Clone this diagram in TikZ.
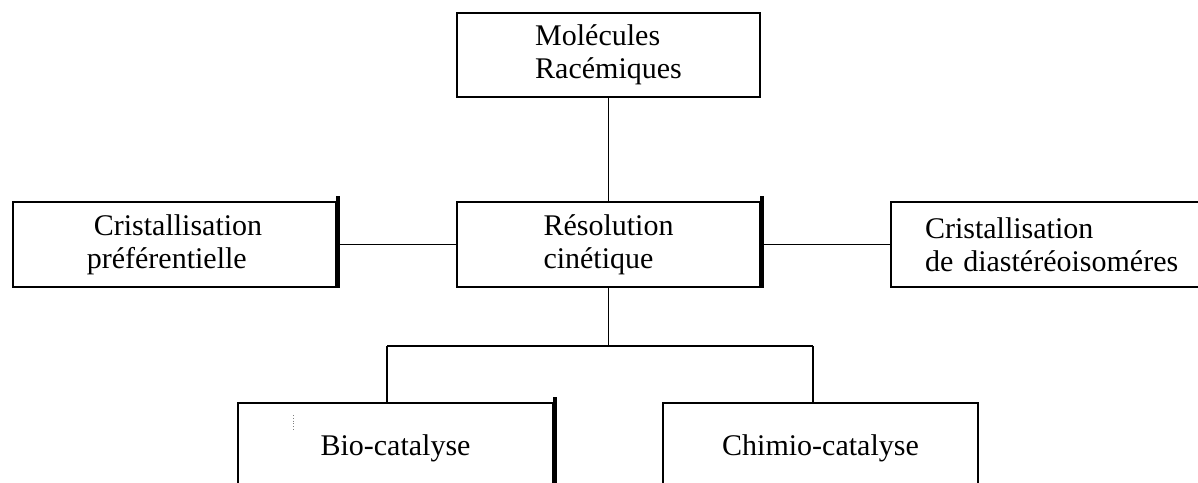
\documentclass[tikz,border=0pt]{standalone}
\usepackage{fontspec}
\setmainfont{Liberation Serif}
\begin{document}
\begin{tikzpicture}[x=1pt,y=-1pt,
  box/.style={draw, line width=1.7pt, rectangle, inner sep=0pt, font=\fontsize{30}{33}\selectfont},
  conn/.style={line width=1.5pt},
  shade/.style={line width=3.5pt}]
\useasboundingbox (0,0) rectangle (1198,482);
\clip (0,0) rectangle (1198,482);
\node[box, minimum width=303pt, minimum height=84pt, align=left] (top) at (608.5,55) {Molécules\\Racémiques};
\node[box, minimum width=303pt, minimum height=85pt, align=left] (mid) at (608.5,244.5) {Résolution\\cinétique};
\node[box, minimum width=323pt, minimum height=85pt, align=left] (left) at (174.5,244.5) {\hspace*{7pt}Cristallisation\\préférentielle};
\node[box, minimum width=330pt, minimum height=85pt, text width=262pt, inner xsep=34pt, align=left] (right) at (1056,244.5) {Cristallisation\\de diastéréoisoméres};
\node[box, minimum width=315pt, minimum height=90pt] (bl) at (395.5,448) {Bio-catalyse};
\node[box, minimum width=315pt, minimum height=90pt] (br) at (820.5,448) {Chimio-catalyse};
\coordinate (busL) at (387,346);
\coordinate (busR) at (813,346);
\draw[conn] (top) -- (mid);
\draw[conn] (left) -- (mid);
\draw[conn] (mid) -- (right);
\draw[conn] (mid.south) -- (mid.south |- busL);
\draw[conn] (busL) -- (busR);
\draw[conn] (busL) -- (busL |- bl.north);
\draw[conn] (busR) -- (busR |- br.north);
\draw[shade] ([xshift=1pt,yshift=5pt]left.north east) -- ([xshift=1pt]left.south east);
\draw[shade] ([xshift=1pt,yshift=5pt]mid.north east) -- ([xshift=1pt]mid.south east);
\draw[shade] ([xshift=1pt,yshift=5pt]bl.north east) -- ([xshift=1pt]bl.south east);
\draw[line width=0.8pt, dotted, gray] (293,415) -- (293,430);
\end{tikzpicture}
\end{document}
